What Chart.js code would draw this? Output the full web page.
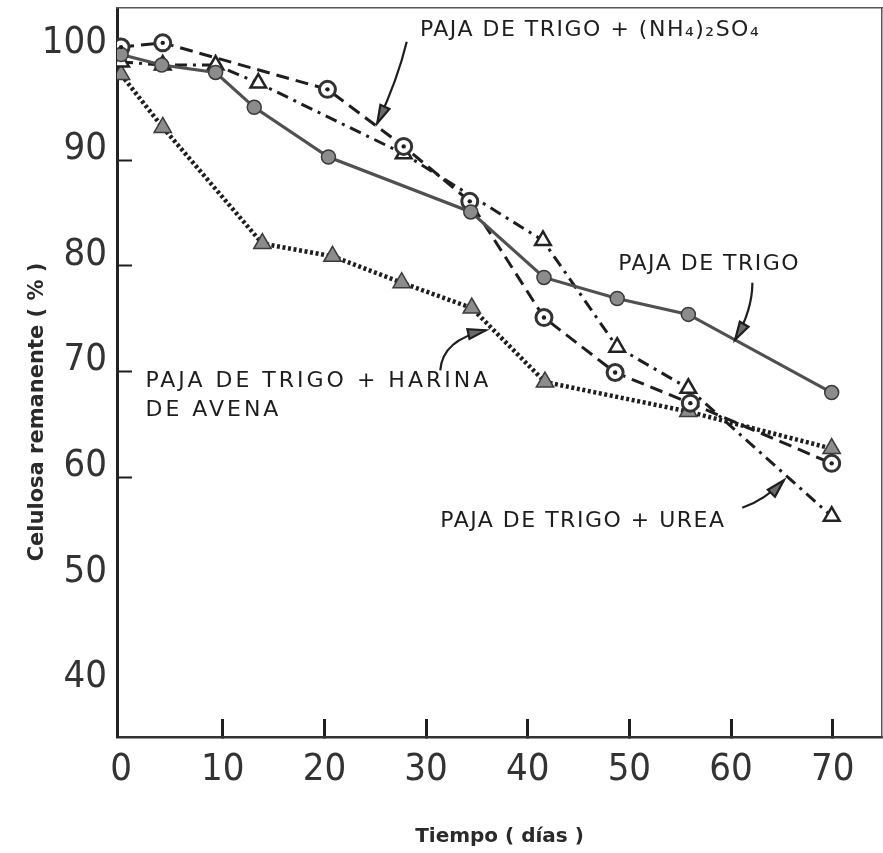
<!DOCTYPE html>
<html lang="es">
<head>
<meta charset="utf-8">
<title>Celulosa remanente</title>
<script src="https://cdn.jsdelivr.net/npm/chart.js@4.4.1/dist/chart.umd.min.js"></script>
<style>
  html, body { margin: 0; padding: 0; background: #fff; overflow: hidden; }
  canvas { display: block; }
</style>
</head>
<body>
<canvas id="grafico" width="883" height="853"></canvas>
<script>
/* ── Datos (días, % de celulosa remanente) ─────────── */
const diasPaja    = [0, 4, 9.3, 13.1, 20.4, 34.4, 41.6, 48.8, 55.8, 69.9];
const pajaTrigo   = [100.0, 99.0, 98.3, 95.0, 90.3, 85.1, 78.9, 76.9, 75.4, 68.0];

const diasSulfato = [0, 4.1, 20.3, 27.8, 34.3, 41.6, 48.6, 56.0, 69.9];
const pajaSulfato = [100.7, 101.1, 96.7, 91.3, 86.1, 75.1, 69.9, 67.0, 61.3];

const diasUrea    = [0, 4.1, 9.3, 13.5, 27.8, 41.5, 48.8, 55.8, 69.9];
const pajaUrea    = [99.3, 99.0, 99.0, 97.3, 90.6, 82.4, 72.3, 68.4, 56.3];

const diasHarina  = [0, 4.1, 13.9, 20.8, 27.6, 34.5, 41.7, 55.8, 69.9];
const pajaHarina  = [98.1, 93.1, 82.1, 80.9, 78.4, 76.0, 69.0, 66.2, 62.7];

const ticksX  = [0, 10, 20, 30, 40, 50, 60, 70];
const ticksY  = [40, 50, 60, 70, 80, 90, 100];
const marcasX = [10, 20, 30, 40, 50, 60, 70];
const marcasY = [60, 70, 80, 90];

// rótulos de cada curva (posición en unidades de los ejes)
const rotulos = [
    { texto: 'PAJA DE TRIGO + (NH₄)₂SO₄', dia: 29.4, valor: 102.3, esp: 1.5 },
    { texto: 'PAJA DE TRIGO',             dia: 48.9, valor: 80.1,  esp: 1.5 },
    { texto: 'PAJA DE TRIGO + HARINA',    dia: 2.4,  valor: 69.1,  esp: 3 },
    { texto: 'DE AVENA',                  dia: 2.4,  valor: 66.3,  esp: 3 },
    { texto: 'PAJA DE TRIGO + UREA',      dia: 31.4, valor: 55.8,  esp: 1.5 },
];

// flechas: origen, control, punta
const flechas = [
    [[28.1, 101.2], [27.2, 97.6], [25.2, 93.5]],
    [[62.1, 78.4],  [62.1, 75.8], [60.4, 73.0]],
    [[31.4, 70.1],  [31.6, 73.0], [35.9, 73.9]],
    [[61.1, 57.1],  [63.3, 57.8], [65.2, 59.7]],
];

const INK  = '#1e1e1e';
const GRIS = '#8c8c8c';
const puntos = (dias, vals) => dias.map((d, i) => ({ x: d, y: vals[i] }));

// tamaño fijo de cada eje, sin el relleno automático de las etiquetas
const fijar = (ancho, alto) => s => {
    if (ancho !== null) s.width = ancho;
    if (alto !== null) s.height = alto;
    s.paddingTop = s.paddingBottom = s.paddingLeft = s.paddingRight = 0;
};

/* ── Rótulos, flechas y título vertical ─────────────── */
function flecha(ctx, p0, p1, p2) {
    ctx.beginPath();
    ctx.moveTo(p0.x, p0.y);
    ctx.quadraticCurveTo(p1.x, p1.y, p2.x, p2.y);
    ctx.stroke();
    const ang = Math.atan2(p2.y - p1.y, p2.x - p1.x);
    const L = 18, W = 5;
    const bx = p2.x - L * Math.cos(ang), by = p2.y - L * Math.sin(ang);
    ctx.beginPath();
    ctx.moveTo(p2.x, p2.y);
    ctx.lineTo(bx + W * Math.sin(ang), by - W * Math.cos(ang));
    ctx.lineTo(bx - W * Math.sin(ang), by + W * Math.cos(ang));
    ctx.closePath();
    ctx.fill();
    ctx.stroke();
}

const rotulosPlugin = {
    id: 'rotulos',
    afterDatasetsDraw(chart) {
        const { ctx, scales: { x, y } } = chart;
        ctx.save();
        ctx.fillStyle = INK;
        ctx.textBaseline = 'middle';
        ctx.textAlign = 'left';
        ctx.font = '22px "DejaVu Sans", sans-serif';
        rotulos.forEach(r => {
            ctx.letterSpacing = r.esp + 'px';
            ctx.fillText(r.texto, x.getPixelForValue(r.dia), y.getPixelForValue(r.valor));
        });
        ctx.letterSpacing = '0px';

        ctx.strokeStyle = INK;
        ctx.lineWidth = 2.2;
        ctx.fillStyle = '#6a6a6a';
        flechas.forEach(f => {
            const p = f.map(([d, v]) => ({ x: x.getPixelForValue(d), y: y.getPixelForValue(v) }));
            flecha(ctx, p[0], p[1], p[2]);
        });

        // título del eje vertical
        ctx.fillStyle = '#2a2a2a';
        ctx.font = 'bold 21px "DejaVu Sans", sans-serif';
        ctx.textAlign = 'center';
        ctx.translate(38, 412);
        ctx.rotate(-Math.PI / 2);
        ctx.fillText('Celulosa remanente ( % )', 0, 0);
        ctx.restore();
    }
};

/* ── Gráfico ─────────────────────────────────────────── */
const fuenteTicks = { family: "'Liberation Sans Narrow', 'DejaVu Sans Condensed', sans-serif", size: 38 };

new Chart(document.getElementById('grafico'), {
    type: 'line',
    data: {
        datasets: [
            {   // punto central de los círculos abiertos
                data: puntos(diasSulfato, pajaSulfato),
                showLine: false,
                pointRadius: 2.2,
                pointBackgroundColor: INK,
                pointBorderWidth: 0,
            },
            {
                label: 'Paja de trigo',
                data: puntos(diasPaja, pajaTrigo),
                borderColor: '#505050',
                borderWidth: 3.2,
                pointStyle: 'circle',
                pointRadius: 7,
                pointBackgroundColor: GRIS,
                pointBorderColor: '#3a3a3a',
                pointBorderWidth: 1.5,
            },
            {
                label: 'Paja de trigo + (NH4)2SO4',
                data: puntos(diasSulfato, pajaSulfato),
                borderColor: INK,
                borderWidth: 3,
                borderDash: [13, 7],
                pointStyle: 'circle',
                pointRadius: 8,
                pointBackgroundColor: '#fff',
                pointBorderColor: '#333',
                pointBorderWidth: 3,
            },
            {
                label: 'Paja de trigo + urea',
                data: puntos(diasUrea, pajaUrea),
                borderColor: INK,
                borderWidth: 3,
                borderDash: [12, 6, 3, 6],
                pointStyle: 'triangle',
                pointRadius: 9,
                pointBackgroundColor: '#fff',
                pointBorderColor: '#222',
                pointBorderWidth: 2.5,
            },
            {
                label: 'Paja de trigo + harina de avena',
                data: puntos(diasHarina, pajaHarina),
                borderColor: INK,
                borderWidth: 4.5,
                borderDash: [3, 2.6],
                borderCapStyle: 'butt',
                pointStyle: 'triangle',
                pointRadius: 10,
                pointBackgroundColor: GRIS,
                pointBorderColor: '#3a3a3a',
                pointBorderWidth: 1.5,
            },
        ]
    },
    options: {
        responsive: false,
        animation: false,
        layout: { autoPadding: false, padding: { top: 8, right: 1, left: 0, bottom: 0 } },
        plugins: {
            legend: { display: false },
            tooltip: { enabled: false },
        },
        elements: { line: { tension: 0 } },
        scales: {
            x: {
                type: 'linear',
                position: 'bottom',
                min: -0.4,
                max: 74.85,
                afterBuildTicks: a => { a.ticks = ticksX.map(v => ({ value: v })); },
                afterFit: fijar(null, 116),
                grid: {
                    drawOnChartArea: false,
                    tickLength: -18,
                    tickWidth: 3,
                    tickColor: c => marcasX.includes(c.tick?.value) ? INK : 'rgba(0,0,0,0)',
                },
                border: { color: '#333', width: 2.5 },
                ticks: { font: fuenteTicks, color: '#333', padding: 28, maxRotation: 0 },
                title: {
                    display: true,
                    text: 'Tiempo ( días )',
                    color: '#2a2a2a',
                    font: { family: "'DejaVu Sans', sans-serif", size: 20, weight: 'bold' },
                    padding: { top: 0, bottom: 4 },
                },
            },
            y: {
                type: 'linear',
                position: 'left',
                min: 35.4,
                max: 104.4,
                afterBuildTicks: a => { a.ticks = ticksY.map(v => ({ value: v })); },
                afterFit: fijar(117, null),
                grid: {
                    drawOnChartArea: false,
                    tickLength: -15,
                    tickWidth: 2,
                    tickColor: c => marcasY.includes(c.tick?.value) ? INK : 'rgba(0,0,0,0)',
                },
                border: { color: '#222', width: 3 },
                ticks: { font: fuenteTicks, color: '#333', padding: 25, labelOffset: -11 },
            },
            x2: {
                type: 'linear',
                position: 'top',
                grid: { display: false },
                ticks: { display: false },
                afterFit: fijar(null, 0),
                border: { color: '#555', width: 1.5 },
            },
            y2: {
                type: 'linear',
                position: 'right',
                grid: { display: false },
                ticks: { display: false },
                afterFit: fijar(0, null),
                border: { color: '#555', width: 1.5 },
            },
        }
    },
    plugins: [rotulosPlugin]
});
</script>
</body>
</html>
